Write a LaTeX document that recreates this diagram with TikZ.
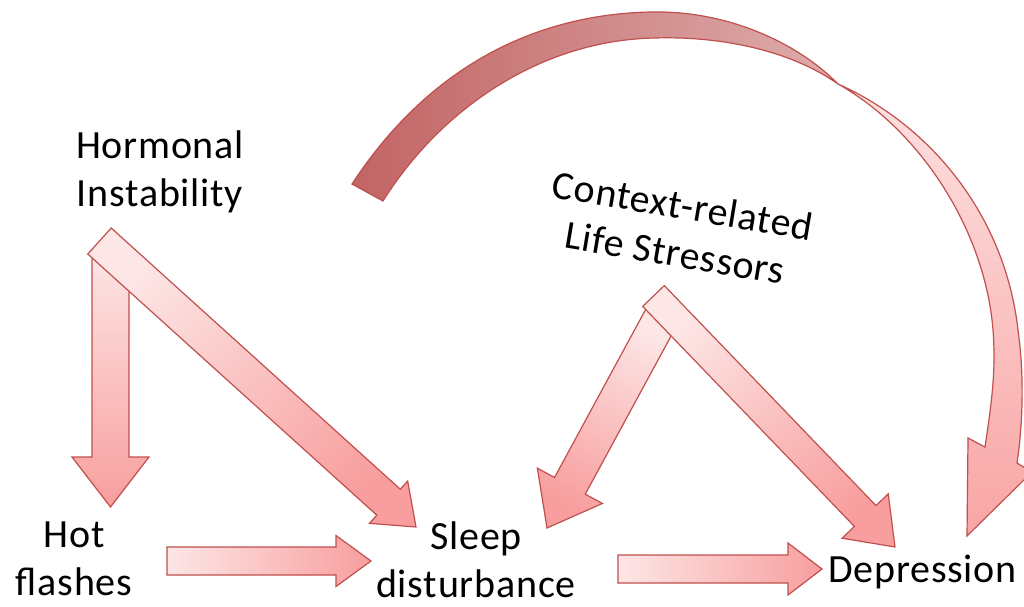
\documentclass[tikz,border=0pt]{standalone}
\usepackage{fontspec}
\setmainfont{Carlito}[LetterSpace=2]
\usetikzlibrary{calc}
\definecolor{arrowlight}{RGB}{253,230,230}
\definecolor{arrowdark}{RGB}{248,158,158}
\definecolor{arrowline}{RGB}{192,80,77}
\definecolor{bandA}{RGB}{194,100,100}
\definecolor{bandB}{RGB}{222,172,172}
\definecolor{backA}{RGB}{253,225,225}
\definecolor{backB}{RGB}{249,165,165}
\tikzset{
  arrowpath/.style={draw=arrowline, line width=1.2pt, line join=miter},
  lbl/.style={font=\fontsize{40}{48}\selectfont, inner sep=0pt, align=center, text=black},
}
% #1 tail, #2 tip, #3 shaft half width, #4 head half width, #5 head length, #6 shading angle
\newcommand\blockarrow[6]{%
  \coordinate (ba-b) at ($(#2)!#5!(#1)$);
  \shade[arrowpath, top color=arrowdark, bottom color=arrowlight, shading angle=#6]
    ($(#1)!#3!90:(#2)$) -- ($(ba-b)!#3!90:(#2)$) -- ($(ba-b)!#4!90:(#2)$) -- (#2)
    -- ($(ba-b)!#4!-90:(#2)$) -- ($(ba-b)!#3!-90:(#2)$) -- ($(#1)!#3!-90:(#2)$) -- cycle;
}
\begin{document}
\begin{tikzpicture}[x=1pt,y=-1pt]
\useasboundingbox (0,0) rectangle (1024,606);
\fill[white] (0,0) rectangle (1024,606);
\begin{scope}
\clip (0,0) rectangle (1024,606);

% text nodes
\node[lbl] (hi) at (160,172) {Hormonal\\Instability};
\node[lbl] (hf) at (74,559) {Hot\\flashes};
\node[lbl] (sd) at (476,560) {Sleep\\disturbance};
\node[lbl, anchor=base west] (dep) at (828,582) {Depression};
\node[lbl, rotate=-9.5] (cls) at (679,229) {Context-related\\Life Stressors};

% arrow end points
\coordinate (hi-a) at (110.5,250);
\coordinate (hf-in) at (110.5,507);
\coordinate (hi-b) at (99.5,241);
\coordinate (sd-in1) at (416,527);
\coordinate (hf-out) at (167,561);
\coordinate (sd-in2) at (371,561);
\coordinate (sd-out) at (618,569);
\coordinate (dep-in1) at (822,569);
\coordinate (cls-a) at (662,316);
\coordinate (sd-in3) at (547,528);
\coordinate (cls-b) at (653.5,296);
\coordinate (dep-in2) at (895,547);

% straight block arrows
\blockarrow{hi-a}{hf-in}{18.5pt}{38.5pt}{50pt}{-180}
\blockarrow{hi-b}{sd-in1}{17.5pt}{28.5pt}{37pt}{-132.1}
\blockarrow{hf-out}{sd-in2}{14pt}{25.5pt}{35pt}{-90}
\blockarrow{sd-out}{dep-in1}{14pt}{26pt}{34pt}{-90}
\blockarrow{cls-a}{sd-in3}{17.5pt}{37pt}{48pt}{-208.5}
\blockarrow{cls-b}{dep-in2}{15pt}{32pt}{43pt}{-136.1}

% curved arrow: Hormonal Instability -> Depression
\coordinate (arc-tail-o) at (352,184);
\coordinate (arc-tail-i) at (383,201);
\coordinate (arc-x) at (838,84);
\coordinate (arc-tip) at (967,536);
\shade[arrowpath, top color=backA, bottom color=backB]
  (arc-x) .. controls (930,125) and (1005,215) .. (1018,330)
  .. controls (1025,380) and (1022,430) .. (1017,463)
  -- (1032,472) -- (arc-tip) -- (968,438) -- (985,447)
  .. controls (992,400) and (996,370) .. (993,330)
  .. controls (985,230) and (920,130) .. (arc-x) -- cycle;
\shade[arrowpath, left color=bandA, right color=bandB]
  (arc-tail-o) .. controls (420,80) and (520,15) .. (650,12)
  .. controls (730,10) and (800,45) .. (arc-x)
  .. controls (790,50) and (720,36) .. (655,38)
  .. controls (540,40) and (440,110) .. (arc-tail-i) -- cycle;
\end{scope}
\end{tikzpicture}
\end{document}
